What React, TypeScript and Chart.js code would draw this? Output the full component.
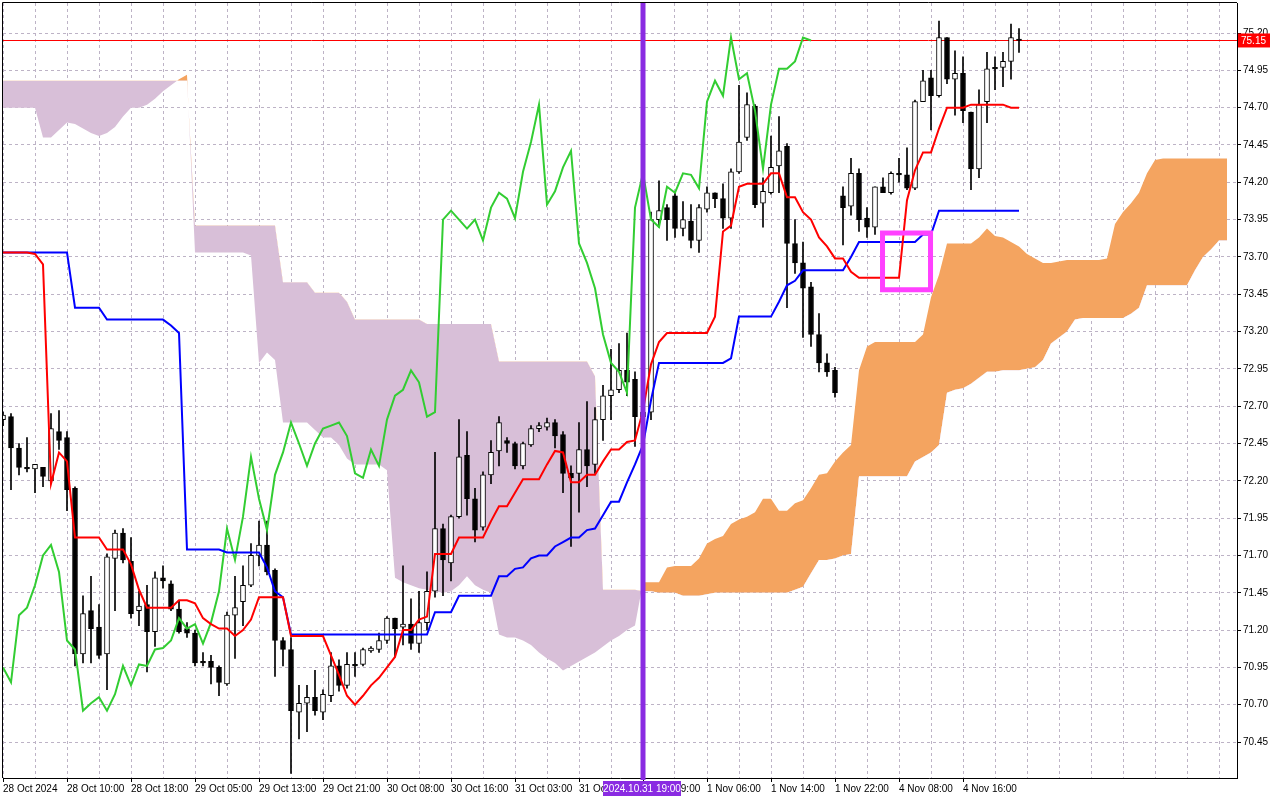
import React, { useEffect, useRef } from "react";
import { Chart, registerables } from "chart.js";

Chart.register(...registerables);

// hourly candles, bar 0 = 28 Oct 2024
const opens = [
  72.61, 72.63, 72.42, 72.29, 72.28, 72.29, 72.2, 72.53, 72.49, 72.15,
  71.04, 71.33, 71.22, 71.04, 71.68, 71.85, 71.66, 71.33, 71.37, 71.19,
  71.55, 71.51, 71.34, 71.21, 71.18, 70.99, 70.99, 70.95, 70.84, 71.3,
  71.39, 71.5, 71.7, 71.77, 71.6, 71.13, 71.07, 70.65, 70.71, 70.75,
  70.65, 70.76, 70.96, 70.83, 70.97, 70.97, 71.06, 71.07, 71.13, 71.28,
  71.22, 71.24, 71.11, 71.25, 71.46, 71.88, 71.65, 71.96, 72.37, 72.08,
  71.89, 72.24, 72.4, 72.47, 72.45, 72.3, 72.44, 72.55, 72.56, 72.59,
  72.51, 72.25, 72.25, 72.41, 72.31, 72.61, 72.77, 72.81, 72.94, 72.88,
  72.63, 72.66, 73.95, 74.03, 74.11, 73.89, 73.94, 73.81, 74.02, 74.13,
  74.09, 73.96, 74.27, 74.5, 74.71, 74.06, 74.13, 74.31, 74.44, 73.79,
  73.66, 73.5, 73.18, 72.99, 72.94, 74.11, 74.04, 74.26, 73.96, 73.9,
  74.17, 74.13, 74.26, 74.25, 74.16, 74.74, 74.9, 74.78, 75.17, 74.89,
  74.93, 74.67, 74.29, 74.74, 74.97, 74.97, 75.01, 75.16,
];
const highs = [
  72.66, 72.65, 72.45, 72.49, 72.31, 72.29, 72.65, 72.67, 72.53, 72.16,
  71.43, 71.56, 71.37, 71.71, 71.87, 71.88, 71.82, 71.46, 71.5, 71.59,
  71.63, 71.53, 71.4, 71.25, 71.2, 71.05, 71.03, 70.96, 71.32, 71.56,
  71.63, 71.78, 71.93, 71.93, 71.61, 71.15, 71.15, 70.83, 70.83, 70.93,
  70.8, 71.05, 71.0, 71.05, 71.05, 71.08, 71.09, 71.18, 71.29, 71.28,
  71.63, 71.41, 71.46, 71.59, 72.39, 71.91, 71.97, 72.61, 72.53, 72.15,
  72.26, 72.47, 72.63, 72.49, 72.46, 72.46, 72.57, 72.59, 72.62, 72.61,
  72.53, 72.3, 72.59, 72.73, 72.69, 72.84, 73.08, 73.12, 73.19, 72.93,
  72.8, 74.0, 74.21, 74.05, 74.13, 74.07, 74.05, 74.05, 74.17, 74.13,
  74.19, 74.29, 74.85, 74.8, 74.72, 74.23, 74.51, 74.64, 74.46, 73.95,
  73.8, 73.53, 73.32, 73.05, 72.96, 74.17, 74.36, 74.29, 74.03, 74.17,
  74.23, 74.27, 74.36, 74.43, 74.75, 74.95, 74.95, 75.28, 75.17, 75.08,
  75.04, 74.67, 74.82, 75.07, 75.04, 75.07, 75.26, 75.23,
];
const lows = [
  72.57, 72.14, 72.24, 72.26, 72.12, 72.16, 72.18, 72.41, 72.0, 70.96,
  70.98, 70.98, 71.01, 70.8, 71.33, 71.65, 71.28, 71.23, 70.92, 71.09,
  71.48, 71.33, 71.18, 71.15, 70.96, 70.96, 70.84, 70.76, 70.83, 71.01,
  71.23, 71.49, 71.63, 71.57, 70.89, 70.96, 70.24, 70.47, 70.52, 70.63,
  70.6, 70.72, 70.79, 70.81, 70.89, 70.96, 71.05, 71.05, 71.11, 71.02,
  71.1, 71.07, 71.05, 71.2, 71.42, 71.43, 71.53, 71.95, 71.97, 71.79,
  71.87, 72.18, 72.3, 72.39, 72.28, 72.28, 72.43, 72.53, 72.54, 72.42,
  72.12, 71.76, 71.99, 72.16, 72.25, 72.47, 72.61, 72.79, 72.77, 72.43,
  72.45, 72.61, 73.9, 73.81, 73.83, 73.84, 73.76, 73.73, 74.0, 74.03,
  73.89, 73.89, 74.26, 74.48, 74.03, 73.9, 74.12, 74.13, 73.36, 73.59,
  73.16, 73.1, 72.93, 72.9, 72.76, 73.78, 73.98, 73.87, 73.83, 73.85,
  74.13, 74.12, 74.2, 74.15, 74.15, 74.74, 74.55, 74.77, 74.86, 74.65,
  74.6, 74.15, 74.23, 74.6, 74.82, 74.84, 74.89, 75.07,
];
const closes = [
  72.64, 72.42, 72.29, 72.28, 72.31, 72.23, 72.55, 72.47, 72.14, 71.04,
  71.31, 71.21, 71.03, 71.69, 71.85, 71.67, 71.31, 71.36, 71.19, 71.55,
  71.53, 71.34, 71.19, 71.18, 70.98, 70.98, 70.95, 70.85, 71.3, 71.35,
  71.5, 71.7, 71.77, 71.59, 71.13, 71.07, 70.66, 70.71, 70.75, 70.66,
  70.77, 70.96, 70.83, 70.97, 70.96, 71.07, 71.08, 71.13, 71.28, 71.21,
  71.24, 71.11, 71.25, 71.46, 71.88, 71.67, 71.96, 72.36, 72.08, 71.87,
  72.24, 72.39, 72.59, 72.45, 72.3, 72.45, 72.55, 72.57, 72.59, 72.5,
  72.25, 72.22, 72.41, 72.3, 72.61, 72.77, 72.81, 72.94, 72.86, 72.63,
  72.66, 73.95, 74.01, 73.95, 73.89, 73.95, 73.81, 74.03, 74.13, 74.09,
  73.96, 74.27, 74.47, 74.72, 74.05, 74.14, 74.3, 74.41, 73.79, 73.66,
  73.49, 73.18, 72.99, 72.93, 72.79, 74.03, 74.26, 73.95, 73.9, 74.17,
  74.13, 74.26, 74.25, 74.16, 74.74, 74.88, 74.78, 75.17, 74.89, 74.93,
  74.68, 74.29, 74.72, 74.96, 74.96, 75.01, 75.17, 75.15,
];

const tenkan = [
  73.73, 73.73, 73.73, 73.73, 73.72, 73.65, 72.18, 72.39, 72.33, 71.82,
  71.82, 71.82, 71.82, 71.74, 71.74, 71.74, 71.64, 71.47, 71.35, 71.35,
  71.35, 71.35, 71.4, 71.4, 71.38, 71.28, 71.24, 71.21, 71.21, 71.16,
  71.2, 71.27, 71.42, 71.42, 71.42, 71.42, 71.16, 71.16, 71.16, 71.16,
  71.16, 71.03, 70.9, 70.76, 70.7, 70.76, 70.83, 70.88, 70.95, 71.02,
  71.2, 71.2, 71.27, 71.29, 71.71, 71.71, 71.71, 71.82, 71.82, 71.82,
  71.82, 71.93, 72.03, 72.03, 72.12, 72.21, 72.21, 72.21, 72.31, 72.4,
  72.39, 72.19, 72.19, 72.24, 72.24, 72.33, 72.41, 72.41, 72.46, 72.47,
  72.67, 72.98, 73.13, 73.19, 73.19, 73.19, 73.19, 73.19, 73.19, 73.3,
  73.87, 73.91, 74.17, 74.19, 74.19, 74.19, 74.26, 74.26, 74.1, 74.1,
  74.0, 73.95, 73.83, 73.77, 73.69, 73.69, 73.6, 73.56, 73.56, 73.56,
  73.56, 73.56, 73.56, 74.08, 74.28, 74.4, 74.4, 74.56, 74.7, 74.7,
  74.7, 74.72, 74.72, 74.72, 74.72, 74.72, 74.7, 74.7,
];
const kijun = [
  73.73, 73.73, 73.73, 73.73, 73.73, 73.73, 73.73, 73.73, 73.73, 73.36,
  73.36, 73.36, 73.36, 73.28, 73.28, 73.28, 73.28, 73.28, 73.28, 73.28,
  73.28, 73.24, 73.19, 71.74, 71.74, 71.74, 71.74, 71.74, 71.72, 71.72,
  71.72, 71.72, 71.72, 71.62, 71.46, 71.42, 71.17, 71.17, 71.17, 71.17,
  71.17, 71.17, 71.17, 71.17, 71.17, 71.17, 71.17, 71.17, 71.17, 71.17,
  71.17, 71.17, 71.17, 71.17, 71.32, 71.32, 71.32, 71.43, 71.43, 71.43,
  71.43, 71.43, 71.56, 71.56, 71.61, 71.62, 71.68, 71.7, 71.7, 71.76,
  71.79, 71.82, 71.82, 71.87, 71.88, 71.97, 72.06, 72.06, 72.19, 72.31,
  72.44, 72.74, 72.99, 72.99, 72.99, 72.99, 72.99, 72.99, 72.99, 72.99,
  72.99, 73.02, 73.3, 73.3, 73.3, 73.3, 73.3, 73.4, 73.51, 73.54,
  73.61, 73.61, 73.61, 73.61, 73.61, 73.61, 73.7, 73.8, 73.8, 73.8,
  73.8, 73.8, 73.8, 73.8, 73.8, 73.85, 73.85, 74.01, 74.01, 74.01,
  74.01, 74.01, 74.01, 74.01, 74.01, 74.01, 74.01, 74.01,
];
// cloud spans, already shifted 26 bars ahead (154 bars)
const spanA = [
  74.7, 74.7, 74.7, 74.7, 74.7, 74.5, 74.5, 74.55, 74.6, 74.59,
  74.56, 74.53, 74.51, 74.53, 74.57, 74.64, 74.7, 74.7, 74.72, 74.76,
  74.81, 74.85, 74.89, 74.92, 73.73, 73.73, 73.73, 73.73, 73.73, 73.73,
  73.73, 73.71, 72.99, 73.06, 73.01, 72.59, 72.59, 72.59, 72.59, 72.54,
  72.49, 72.49, 72.44, 72.35, 72.31, 72.31, 72.31, 72.31, 72.27, 71.55,
  71.52, 71.5, 71.48, 71.47, 71.46, 71.45, 71.46, 71.5, 71.56, 71.5,
  71.47, 71.45, 71.17, 71.15, 71.15, 71.13, 71.1, 71.05, 71.01, 70.98,
  70.93, 70.96, 70.99, 71.02, 71.05, 71.09, 71.13, 71.16, 71.2, 71.23,
  71.52, 71.52, 71.52, 71.62, 71.63, 71.63, 71.63, 71.68, 71.78, 71.81,
  71.83, 71.91, 71.94, 71.96, 71.99, 72.08, 72.08, 72.0, 72.0, 72.05,
  72.07, 72.15, 72.24, 72.25, 72.33, 72.39, 72.44, 72.94, 73.1, 73.13,
  73.13, 73.13, 73.13, 73.13, 73.13, 73.18, 73.43, 73.58, 73.79, 73.79,
  73.79, 73.79, 73.83, 73.89, 73.84, 73.83, 73.8, 73.77, 73.72, 73.69,
  73.66, 73.66, 73.67, 73.68, 73.68, 73.68, 73.68, 73.68, 73.69, 73.92,
  74.0, 74.06, 74.13, 74.26, 74.35, 74.36, 74.36, 74.36, 74.36, 74.36,
  74.36, 74.36, 74.36, 74.36,
];
const spanB = [
  74.88, 74.88, 74.88, 74.88, 74.88, 74.88, 74.88, 74.88, 74.88, 74.88,
  74.88, 74.88, 74.88, 74.88, 74.88, 74.88, 74.88, 74.88, 74.88, 74.88,
  74.88, 74.88, 74.88, 74.88, 73.91, 73.91, 73.91, 73.91, 73.91, 73.91,
  73.91, 73.91, 73.91, 73.91, 73.91, 73.53, 73.53, 73.53, 73.53, 73.46,
  73.46, 73.46, 73.46, 73.4, 73.28, 73.28, 73.28, 73.28, 73.28, 73.28,
  73.28, 73.28, 73.28, 73.25, 73.25, 73.25, 73.25, 73.25, 73.25, 73.25,
  73.25, 73.25, 73.0, 73.0, 73.0, 73.0, 73.0, 73.0, 73.0, 73.0,
  73.0, 73.0, 73.0, 73.0, 72.9, 71.47, 71.47, 71.47, 71.47, 71.47,
  71.46, 71.46, 71.45, 71.45, 71.45, 71.43, 71.43, 71.43, 71.44, 71.45,
  71.45, 71.45, 71.45, 71.45, 71.45, 71.45, 71.45, 71.45, 71.45, 71.47,
  71.49, 71.58, 71.67, 71.67, 71.68, 71.7, 71.71, 72.23, 72.23, 72.23,
  72.23, 72.23, 72.23, 72.23, 72.33, 72.36, 72.39, 72.44, 72.79, 72.81,
  72.82, 72.85, 72.89, 72.93, 72.93, 72.94, 72.94, 72.94, 72.95, 72.96,
  73.01, 73.12, 73.16, 73.2, 73.28, 73.29, 73.29, 73.29, 73.29, 73.29,
  73.29, 73.32, 73.36, 73.51, 73.51, 73.51, 73.51, 73.51, 73.51, 73.61,
  73.7, 73.75, 73.81, 73.81,
];
const chikouShift = 26;

const yTicks = [
  70.45, 70.7, 70.95, 71.2, 71.45, 71.7, 71.95, 72.2, 72.45, 72.7,
  72.95, 73.2, 73.45, 73.7, 73.95, 74.2, 74.45, 74.7, 74.95, 75.2,
];
// one label every 8 bars
const xTickLabels = [
  "28 Oct 2024", "28 Oct 10:00", "28 Oct 18:00", "29 Oct 05:00",
  "29 Oct 13:00", "29 Oct 21:00", "30 Oct 08:00", "30 Oct 16:00",
  "31 Oct 03:00", "31 Oct 11:00", "31 Oct 19:00", "1 Nov 06:00",
  "1 Nov 14:00", "1 Nov 22:00", "4 Nov 08:00", "4 Nov 16:00",
];
const cursorBar = 80;
const cursorLabel = "2024.10.31 19:00";
const boxBars = [109.94, 115.94];
const boxPrices = [73.48, 73.86];

const FONT = { family: "Liberation Sans", size: 10 };
const GRID = "#bdb3c6";

const App: React.FC = () => {
  const canvasRef = useRef<HTMLCanvasElement | null>(null);
  const chartRef = useRef<Chart | null>(null);

  useEffect(() => {
    if (!canvasRef.current) return;
    if (chartRef.current) chartRef.current.destroy();

    const idx = opens.map((_, i) => i);
    const pts = (arr: number[]) => arr.map((v, i) => ({ x: i, y: v }));
    const lastPrice = closes[closes.length - 1];
    const gridBars = Array.from({ length: 39 }, (_, k) => k * 4);

    const overlay = {
      id: "overlay",
      beforeDatasetsDraw(chart: any) {
        const { ctx, chartArea: a, scales } = chart;
        const py = Math.round(scales.y.getPixelForValue(lastPrice)) + 0.5;
        ctx.save();
        ctx.strokeStyle = "#ff0000";
        ctx.lineWidth = 1;
        ctx.beginPath();
        ctx.moveTo(a.left, py);
        ctx.lineTo(a.right, py);
        ctx.stroke();
        ctx.restore();
      },
      afterDatasetsDraw(chart: any) {
        const { ctx, chartArea: a, scales } = chart;
        const { x, y } = scales;
        ctx.save();
        const x1 = x.getPixelForValue(boxBars[0]);
        const x2 = x.getPixelForValue(boxBars[1]);
        const y1 = y.getPixelForValue(boxPrices[1]);
        const y2 = y.getPixelForValue(boxPrices[0]);
        ctx.strokeStyle = "#ff40ff";
        ctx.lineWidth = 5;
        ctx.strokeRect(x1, y1, x2 - x1, y2 - y1);

        const cx = x.getPixelForValue(cursorBar);
        ctx.fillStyle = "#8a2be2";
        ctx.fillRect(cx - 2.5, a.top, 5, a.bottom - a.top + 2);

        ctx.strokeStyle = "#000";
        ctx.lineWidth = 1;
        ctx.beginPath();
        ctx.moveTo(a.left - 0.5, a.bottom);
        ctx.lineTo(a.left - 0.5, a.top - 0.5);
        ctx.lineTo(a.right, a.top - 0.5);
        ctx.stroke();
        ctx.restore();
      },
      afterDraw(chart: any) {
        const { ctx, chartArea: a, scales } = chart;
        const cx = scales.x.getPixelForValue(cursorBar);
        const py = scales.y.getPixelForValue(lastPrice);
        ctx.save();
        ctx.font = "10px 'Liberation Sans'";
        ctx.textBaseline = "middle";
        ctx.fillStyle = "#8a2be2";
        ctx.fillRect(cx - 40, a.bottom + 3, 78, 15);
        ctx.fillStyle = "#fff";
        ctx.textAlign = "center";
        ctx.fillText(cursorLabel, cx - 1, a.bottom + 11);

        ctx.fillStyle = "#ff0000";
        ctx.fillRect(a.right + 1, py - 7, 32, 14);
        ctx.fillStyle = "#fff";
        ctx.textAlign = "left";
        ctx.fillText(lastPrice.toFixed(2), a.right + 4, py + 1);
        ctx.restore();
      },
    };

    chartRef.current = new Chart(canvasRef.current, {
      type: "bar",
      data: {
        datasets: [
          {
            type: "line",
            label: "Senkou A",
            data: pts(spanA),
            borderColor: "rgba(0,0,0,0)",
            pointRadius: 0,
            tension: 0,
            fill: { target: "+1", above: "#f4a460", below: "#d8bfd8" },
            order: 10,
          },
          {
            type: "line",
            label: "Senkou B",
            data: pts(spanB),
            borderColor: "rgba(0,0,0,0)",
            pointRadius: 0,
            tension: 0,
            fill: false,
            order: 10,
          },
          {
            type: "bar",
            label: "wicks",
            data: idx.map((i) => ({ x: i, y: [lows[i], highs[i]] })),
            backgroundColor: "#000",
            barThickness: 1,
            grouped: false,
            order: 6,
          },
          {
            type: "bar",
            label: "bodies",
            data: idx.map((i) => ({ x: i, y: [opens[i], closes[i]] })),
            backgroundColor: idx.map((i) => (closes[i] >= opens[i] ? "#fff" : "#000")),
            borderColor: "#000",
            borderWidth: 1,
            borderSkipped: false,
            barThickness: 5,
            minBarLength: 1,
            grouped: false,
            order: 5,
          },
          {
            type: "line",
            label: "Chikou",
            data: closes.slice(chikouShift).map((v, i) => ({ x: i, y: v })),
            borderColor: "#32cd32",
            borderWidth: 2,
            pointRadius: 0,
            tension: 0,
            order: 3,
          },
          {
            type: "line",
            label: "Kijun",
            data: pts(kijun),
            borderColor: "#0000ff",
            borderWidth: 2,
            pointRadius: 0,
            tension: 0,
            order: 2,
          },
          {
            type: "line",
            label: "Tenkan",
            data: pts(tenkan),
            borderColor: "#ff0000",
            borderWidth: 2,
            pointRadius: 0,
            tension: 0,
            order: 1,
          },
        ] as any,
      },
      options: {
        responsive: false,
        animation: false,
        events: [],
        layout: { padding: { left: 3, top: 3, right: 0, bottom: 0 } },
        plugins: { legend: { display: false }, tooltip: { enabled: false } },
        scales: {
          x: {
            type: "linear",
            min: 0,
            max: 154.25,
            offset: false,
            afterBuildTicks: (s: any) => {
              s.ticks = gridBars.map((v) => ({ value: v }));
            },
            afterFit: (s: any) => {
              s.height = 22;
              s.paddingLeft = 0;
              s.paddingRight = 0;
            },
            ticks: {
              autoSkip: false,
              maxRotation: 0,
              align: "start",
              padding: 1,
              color: "#000",
              font: FONT,
              callback: (v: any) => (v % 8 === 0 ? xTickLabels[v / 8] ?? "" : ""),
            },
            grid: {
              offset: false,
              color: GRID,
              tickLength: 4,
              tickColor: (c: any) =>
                c.tick && c.tick.value % 8 === 0 && c.tick.value / 8 < xTickLabels.length
                  ? "#000"
                  : "rgba(0,0,0,0)",
            },
            border: { color: "#000", dash: [3, 3] },
          },
          y: {
            type: "linear",
            position: "right",
            min: 70.209,
            max: 75.401,
            afterBuildTicks: (s: any) => {
              s.ticks = yTicks.map((v) => ({ value: v }));
            },
            afterFit: (s: any) => {
              s.width = 43;
              s.paddingTop = 0;
              s.paddingBottom = 0;
            },
            ticks: {
              padding: 2,
              color: "#000",
              font: FONT,
              callback: (v: any) => Number(v).toFixed(2),
            },
            grid: { color: GRID, tickColor: "#000", tickLength: 4 },
            border: { color: "#000", dash: [3, 3] },
          },
        },
      },
      plugins: [overlay],
    });

    return () => {
      chartRef.current?.destroy();
      chartRef.current = null;
    };
  }, []);

  return (
    <div style={{ position: "fixed", left: 0, top: 0, width: 1280, height: 800, background: "#fff" }}>
      <canvas ref={canvasRef} width={1280} height={800} style={{ display: "block" }} />
    </div>
  );
};

export default App;
